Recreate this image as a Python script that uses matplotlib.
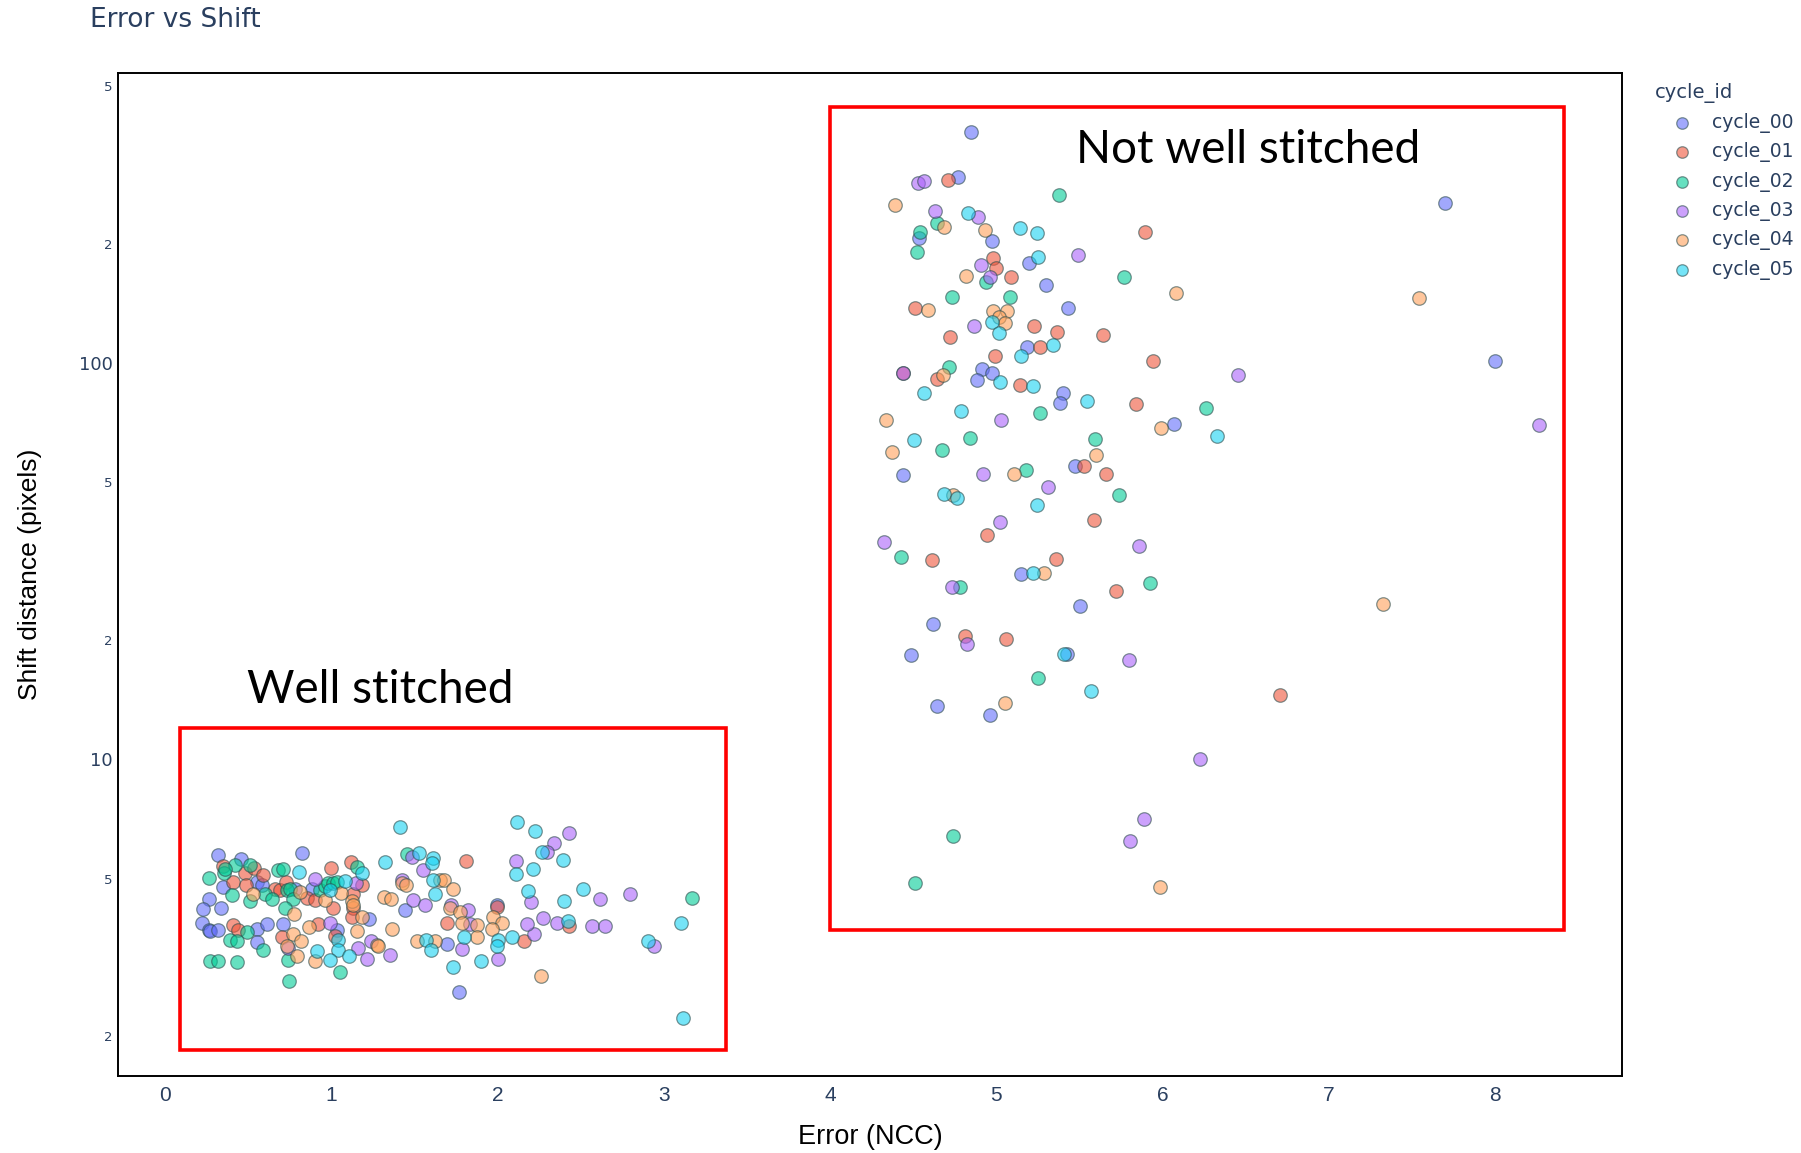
import matplotlib
matplotlib.use("Agg")
import matplotlib.pyplot as plt
from matplotlib.patches import Rectangle
from matplotlib.ticker import FixedLocator, NullLocator

# (error, shift) points, one list per cycle
cycle_00 = [(0.314, 5.75), (0.824, 5.80), (0.453, 5.59), (0.349, 4.77), (0.549, 4.91), (0.579, 4.82),
            (0.780, 4.72), (0.880, 4.70), (0.264, 4.45), (0.228, 4.18), (0.333, 4.22), (0.218, 3.87),
            (0.264, 3.70), (0.270, 3.68), (0.318, 3.70), (0.553, 3.73), (0.609, 3.84), (0.553, 3.45),
            (0.709, 3.83), (1.030, 3.70), (1.227, 3.96), (1.442, 4.16), (1.692, 3.42), (1.993, 4.29),
            (1.768, 2.59),
            (4.845, 383), (4.767, 295), (7.699, 253), (4.534, 207), (4.974, 203), (5.198, 179),
            (5.296, 157), (5.430, 138), (5.186, 110), (8.003, 101), (4.911, 96.8), (4.975, 94.5),
            (4.881, 90.6), (5.402, 84.1), (5.383, 79.4), (6.066, 70.0), (4.440, 52.1), (5.471, 55.0),
            (5.146, 29.4), (5.504, 24.4), (4.618, 22.0), (4.486, 18.3), (5.426, 18.4), (4.642, 13.6),
            (4.964, 12.9)]
cycle_01 = [(0.349, 5.37), (0.479, 5.16), (0.533, 5.31), (0.589, 5.11), (0.994, 5.32), (1.115, 5.49),
            (0.409, 4.91), (0.485, 4.82), (0.659, 4.70), (0.689, 4.68), (0.726, 4.91), (0.850, 4.46),
            (0.900, 4.42), (1.181, 4.82), (1.127, 4.58), (1.131, 4.21), (1.121, 4.01), (1.010, 4.22),
            (0.409, 3.81), (0.439, 3.70), (0.699, 3.57), (0.916, 3.85), (1.020, 3.58), (1.809, 5.53),
            (1.692, 3.87), (1.997, 4.24), (2.158, 3.48), (2.430, 3.79),
            (4.711, 290), (5.896, 214), (4.981, 184), (4.997, 174), (5.088, 165), (4.510, 138),
            (5.228, 124), (5.366, 120), (5.641, 118), (4.721, 116), (5.262, 110), (4.992, 104),
            (5.942, 101), (4.641, 90.9), (5.142, 88.0), (5.842, 78.9), (5.527, 55.1), (5.659, 52.6),
            (5.585, 40.2), (4.943, 36.9), (4.615, 31.9), (5.356, 32.0), (5.719, 26.6), (4.811, 20.5),
            (5.058, 20.1), (6.708, 14.5), (4.436, 94.6)]
cycle_02 = [(0.419, 5.40), (0.509, 5.40), (0.355, 5.17), (0.360, 5.30), (0.264, 5.02), (0.680, 5.25),
            (0.710, 5.28), (1.151, 5.34), (1.452, 5.78), (0.399, 4.54), (0.509, 4.38), (0.599, 4.58),
            (0.639, 4.45), (0.730, 4.68), (0.750, 4.70), (0.770, 4.45), (0.930, 4.68), (0.960, 4.80),
            (0.980, 4.86), (1.010, 4.88), (1.030, 4.90), (0.720, 4.22), (0.489, 3.67), (0.389, 3.50),
            (0.433, 3.48), (0.589, 3.30), (0.740, 3.11), (0.746, 2.76), (0.268, 3.10), (0.318, 3.10),
            (0.433, 3.08), (1.050, 2.91), (3.166, 4.47),
            (5.375, 265), (4.641, 226), (4.540, 214), (4.522, 191), (4.937, 160), (5.768, 165),
            (4.731, 147), (5.080, 147), (4.715, 97.9), (5.262, 74.9), (6.259, 77.0), (4.843, 64.8),
            (5.593, 64.4), (4.672, 60.4), (5.176, 53.7), (5.736, 46.4), (4.427, 32.4), (5.926, 27.9),
            (4.784, 27.2), (5.249, 16.0), (4.738, 6.40), (4.508, 4.87)]
cycle_03 = [(1.482, 5.67), (1.552, 5.25), (1.422, 4.96), (1.492, 4.41), (1.562, 4.29), (0.900, 4.98),
            (1.147, 4.87), (0.740, 3.34), (0.990, 3.87), (1.161, 3.34), (1.211, 3.14), (1.235, 3.48),
            (1.351, 3.21), (1.716, 4.29), (1.823, 4.16), (1.833, 3.85), (1.787, 3.33), (1.999, 3.13),
            (2.426, 6.53), (2.340, 6.16), (2.298, 5.82), (2.109, 5.55), (2.200, 4.36), (2.615, 4.43),
            (2.793, 4.58), (2.220, 3.62), (2.174, 3.83), (2.274, 3.97), (2.358, 3.87), (2.565, 3.79),
            (2.645, 3.80), (2.942, 3.38),
            (4.530, 285), (4.565, 288), (4.630, 242), (4.887, 233), (5.491, 187), (4.909, 177),
            (4.961, 165), (4.867, 124), (6.452, 93.0), (4.436, 94.6), (5.030, 71.6), (8.265, 69.7),
            (4.921, 52.6), (5.310, 48.6), (5.023, 39.7), (4.325, 35.3), (5.856, 34.6), (4.730, 27.2),
            (4.824, 19.5), (5.797, 17.8), (6.224, 10.0), (5.888, 7.08), (5.805, 6.21)]
cycle_04 = [(0.529, 4.58), (0.810, 4.63), (0.960, 4.41), (1.056, 4.61), (1.125, 4.39), (1.131, 4.29),
            (1.181, 4.01), (0.774, 4.08), (0.766, 3.62), (0.814, 3.48), (0.734, 3.38), (0.790, 3.19),
            (0.864, 3.77), (0.900, 3.10), (1.151, 3.69), (1.271, 3.40), (1.281, 3.38), (1.422, 4.86),
            (1.448, 4.81), (1.315, 4.50), (1.355, 4.43), (1.365, 3.72), (1.512, 3.47), (1.622, 3.48),
            (1.652, 4.95), (1.676, 4.95), (1.732, 4.72), (1.712, 4.21), (1.772, 4.12), (1.783, 3.86),
            (1.873, 3.82), (1.969, 4.01), (2.023, 3.86), (1.963, 3.72), (1.873, 3.57), (2.260, 2.84),
            (4.390, 250), (4.683, 220), (4.929, 216), (4.819, 166), (6.081, 150), (7.540, 146),
            (4.590, 136), (4.981, 135), (5.062, 135), (5.017, 131), (5.052, 126), (4.681, 93.0),
            (4.336, 72.0), (5.992, 68.4), (4.374, 59.6), (5.599, 58.6), (5.106, 52.4), (4.741, 46.4),
            (5.284, 29.5), (7.328, 24.7), (5.050, 13.9), (5.985, 4.76)]
cycle_05 = [(1.414, 6.76), (0.806, 5.20), (1.181, 5.18), (1.319, 5.49), (1.528, 5.81), (1.612, 5.62),
            (1.602, 5.46), (1.612, 4.95), (1.622, 4.58), (0.990, 4.68), (1.081, 4.93), (1.566, 3.50),
            (1.596, 3.30), (1.040, 3.50), (1.040, 3.30), (0.914, 3.29), (0.990, 3.11), (1.105, 3.19),
            (2.117, 6.93), (2.224, 6.61), (2.264, 5.85), (2.394, 5.57), (2.109, 5.15), (2.214, 5.30),
            (2.184, 4.66), (2.398, 4.40), (2.515, 4.71), (2.424, 3.91), (3.100, 3.87), (2.906, 3.48),
            (1.797, 3.57), (2.003, 3.50), (1.993, 3.38), (2.087, 3.56), (1.897, 3.10), (1.728, 2.99),
            (3.116, 2.22),
            (4.827, 239), (5.140, 219), (5.244, 213), (5.250, 185), (4.972, 127), (5.017, 119),
            (5.341, 111), (5.146, 104), (5.019, 89.3), (5.223, 87.6), (4.566, 84.1), (5.545, 80.0),
            (4.785, 75.8), (6.325, 65.3), (4.502, 63.8), (4.683, 46.6), (4.765, 45.6), (5.244, 43.8),
            (5.222, 29.6), (5.407, 18.4), (5.569, 14.9)]

cycles = {"cycle_00": cycle_00, "cycle_01": cycle_01, "cycle_02": cycle_02,
          "cycle_03": cycle_03, "cycle_04": cycle_04, "cycle_05": cycle_05}
colors = ["#636EFA", "#EF553B", "#00CC96", "#AB63FA", "#FFA15A", "#19D3F3"]

y_ticks = [2, 5, 10, 20, 50, 100, 200, 500]
y_tick_labels = ["2", "5", "10", "2", "5", "100", "2", "5"]

# annotation boxes (x0, x1, y0, y1) in data units
well_box = (0.09, 3.372, 1.849, 11.98)
bad_box = (4.001, 8.418, 3.70, 443)

font_color = "#2a3f5f"

fig = plt.figure(figsize=(18.01, 11.53), dpi=100)
ax = fig.add_axes([0.0657, 0.0666, 0.8348, 0.8697])

for (name, pts), c in zip(cycles.items(), colors):
    xs = [p[0] for p in pts]
    ys = [p[1] for p in pts]
    ax.scatter(xs, ys, s=95, color=c, alpha=0.6, edgecolors="#2F4F4F",
               linewidths=0.9, label=name, zorder=3)

ax.set_yscale("log")
ax.set_xlim(-0.283, 8.763)
ax.set_ylim(1.586, 537.8)

ax.set_xticks(range(0, 9))
ax.xaxis.set_minor_locator(NullLocator())
ax.yaxis.set_major_locator(FixedLocator(y_ticks))
ax.yaxis.set_minor_locator(NullLocator())
ax.set_yticklabels(y_tick_labels)
for lab, v in zip(ax.get_yticklabels(), y_ticks):
    lab.set_color(font_color)
    lab.set_family("DejaVu Sans")
    lab.set_fontsize(13 if v in (10, 100) else 9.5)
for lab in ax.get_xticklabels():
    lab.set_color(font_color)
    lab.set_family(["Liberation Sans Narrow", "Liberation Sans"])
    lab.set_fontsize(15)
ax.tick_params(axis="both", length=0)
ax.tick_params(axis="y", pad=4)
ax.tick_params(axis="x", pad=7)

for sp in ax.spines.values():
    sp.set_color("black")
    sp.set_linewidth(1.4)

for x0, x1, y0, y1 in (well_box, bad_box):
    ax.add_patch(Rectangle((x0, y0), x1 - x0, y1 - y0, fill=False, edgecolor="#FF0000",
                           linewidth=2.6, zorder=4, clip_on=False))

ax.text(1.291, 15.0, "Well stitched", fontsize=33, family=["Lato", "DejaVu Sans"],
        ha="center", va="center", color="black")
ax.text(6.514, 345, "Not well stitched", fontsize=33, family=["Lato", "DejaVu Sans"],
        ha="center", va="center", color="black")

fig.text(0.0497, 0.983, "Error vs Shift", fontsize=19, color=font_color,
         ha="left", va="center", family="DejaVu Sans")
fig.text(0.0167, 0.502, "Shift distance (pixels)", fontsize=19, rotation=90,
         ha="center", va="center", color="black", family=["Liberation Sans", "DejaVu Sans"])
fig.text(0.4834, 0.0139, "Error (NCC)", fontsize=19.5, ha="center", va="center",
         color="black", family=["Liberation Sans Narrow", "Liberation Sans"])

leg = ax.legend(loc="upper left", bbox_to_anchor=(1.022, 0.99), frameon=False,
                title="cycle_id", alignment="left", fontsize=13.5, title_fontsize=14,
                handlelength=2.9, handletextpad=0.15, labelspacing=0.5,
                borderaxespad=0, borderpad=0, markerscale=0.85)
leg.get_title().set_color(font_color)
for t in leg.get_texts():
    t.set_color(font_color)

fig.savefig("out.png", dpi=100, facecolor="white")
